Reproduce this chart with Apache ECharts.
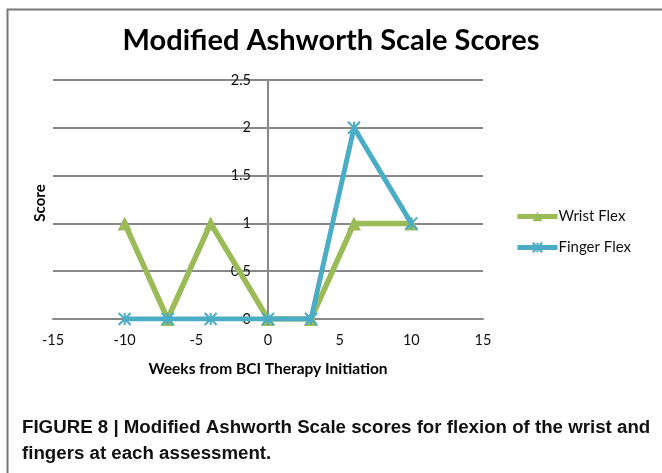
<!DOCTYPE html>
<html>
<head>
<meta charset="utf-8">
<script src="https://cdn.jsdelivr.net/npm/echarts@6/dist/echarts.min.js"></script>
<style>
  html, body { margin: 0; padding: 0; background: #fff; }
  #chart { width: 662px; height: 473px; }
</style>
</head>
<body>
<div id="chart"></div>
<script>
// weeks from BCI therapy initiation
const weeks = [-10, -7, -4, 0, 3, 6, 10];
const wristFlex = [1, 0, 1, 0, 0, 1, 1];
const fingerFlex = [0, 0, 0, 0, 0, 2, 1];
const seriesNames = ["Wrist Flex", "Finger Flex"];

const starPath = "path://M0,0L10,10M10,0L0,10M5,0L5,10";

const pairs = (ys) => weeks.map((w, i) => [w, ys[i]]);

const chart = echarts.init(document.getElementById("chart"));
chart.setOption({
  animation: false,
  textStyle: { fontFamily: "Lato, 'Open Sans', sans-serif" },
  title: {
    text: "Modified Ashworth Scale Scores",
    left: "center",
    top: 21,
    textStyle: { fontSize: 29, fontWeight: "bold", color: "#000", fontFamily: "Lato, sans-serif" }
  },
  grid: { left: 53, right: 179, top: 80, bottom: 154 },
  legend: {
    orient: "vertical",
    left: 510,
    top: 204,
    itemWidth: 40,
    itemHeight: 12,
    itemGap: 16,
    lineStyle: { width: 5 },
    textStyle: { fontSize: 15, color: "#111", padding: [0, 0, 0, -4] },
    data: seriesNames
  },
  xAxis: {
    type: "value",
    min: -15,
    max: 15,
    interval: 5,
    name: "Weeks from BCI Therapy Initiation",
    nameLocation: "middle",
    nameGap: 42,
    nameTextStyle: { fontSize: 15.5, fontWeight: "bold", color: "#000" },
    axisLine: { show: true, lineStyle: { color: "#888", width: 2 } },
    axisTick: { show: false },
    axisLabel: { fontSize: 14.5, color: "#111", margin: 14 },
    splitLine: { show: false }
  },
  yAxis: {
    type: "value",
    min: 0,
    max: 2.5,
    interval: 0.5,
    offset: -215,
    axisLine: { show: true, onZero: false, lineStyle: { color: "#888", width: 2 } },
    axisTick: { show: false },
    axisLabel: { fontSize: 14.5, color: "#111", margin: 17 },
    splitLine: { show: true, lineStyle: { color: "#888", width: 2 } }
  },
  graphic: [
    {
      type: "polyline",
      shape: { points: [[7.5, 473], [7.5, 9.5], [662, 9.5]] },
      style: { stroke: "#777", lineWidth: 2, fill: null }
    },
    {
      type: "text",
      x: 40,
      y: 203,
      rotation: Math.PI / 2,
      style: {
        text: "Score",
        fontSize: 15,
        fontWeight: "bold",
        fill: "#000",
        align: "center",
        verticalAlign: "middle",
        fontFamily: "Lato, sans-serif"
      }
    },
    {
      type: "text",
      left: 22,
      top: 415,
      style: {
        text: "FIGURE 8 | Modified Ashworth Scale scores for flexion of the wrist and\nfingers at each assessment.",
        fontSize: 18.7,
        lineHeight: 26,
        fontWeight: "bold",
        fill: "#111",
        fontFamily: "'Liberation Sans Narrow', 'Liberation Sans', Arial, sans-serif"
      }
    }
  ],
  series: [
    {
      name: seriesNames[0],
      type: "line",
      data: pairs(wristFlex),
      symbol: "triangle",
      symbolSize: 14,
      lineStyle: { color: "#9BBB59", width: 5.5 },
      itemStyle: { color: "#9BBB59" },
      z: 3
    },
    {
      name: seriesNames[1],
      type: "line",
      data: pairs(fingerFlex),
      symbol: starPath,
      symbolSize: 12,
      lineStyle: { color: "#4BACC6", width: 5 },
      itemStyle: { color: "#4BACC6", borderColor: "#4BACC6", borderWidth: 2 },
      z: 4
    }
  ]
});
</script>
</body>
</html>
